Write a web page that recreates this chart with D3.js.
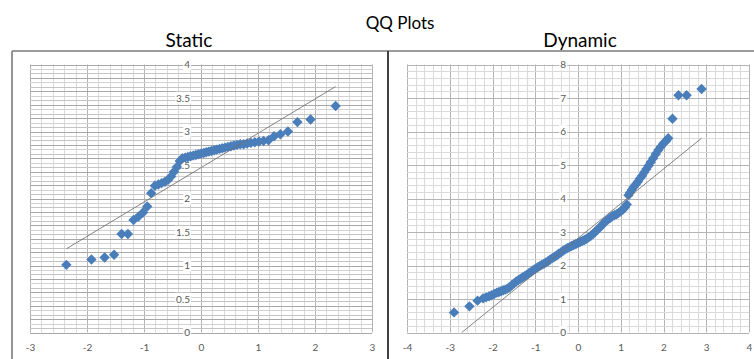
<!DOCTYPE html>
<html><head><meta charset="utf-8">
<script src="https://cdn.jsdelivr.net/npm/d3@7"></script>
<style>html,body{margin:0;padding:0;background:#fff;}svg{display:block;}</style>
</head><body>
<svg id="chart" width="754" height="359"></svg>
<script>
// ---------- data ----------
const mainTitle = "QQ Plots";
const panelTitles = ["Static", "Dynamic"];

const staticX = [-2.362,-1.922,-1.691,-1.525,-1.393,-1.282,-1.184,-1.097,-1.017,-0.943,-0.874,-0.809,-0.748,-0.689,-0.632,-0.577,-0.524,-0.473,-0.423,-0.373,-0.325,-0.277,-0.230,-0.183,-0.137,-0.091,-0.046,0,0.046,0.091,0.137,0.183,0.230,0.277,0.325,0.373,0.423,0.473,0.524,0.577,0.632,0.689,0.748,0.809,0.874,0.943,1.017,1.097,1.184,1.282,1.393,1.525,1.691,1.922,2.362];
const staticY = [1.01,1.09,1.12,1.16,1.47,1.47,1.68,1.73,1.79,1.88,2.08,2.19,2.21,2.23,2.25,2.28,2.33,2.40,2.47,2.56,2.60,2.61,2.62,2.63,2.64,2.65,2.66,2.67,2.68,2.69,2.70,2.71,2.72,2.73,2.74,2.75,2.76,2.77,2.78,2.79,2.80,2.81,2.81,2.82,2.83,2.84,2.85,2.86,2.87,2.93,2.96,3.00,3.14,3.18,3.38];
const staticLineX = [-2.36, 2.36];
const staticLineY = [1.25, 3.67];

const dynX = [-2.90,-2.54,-2.35,-2.22,-2.15,-2.08,-2.02,-1.96,-1.90,-1.85,-1.80,-1.75,-1.70,-1.65,-1.60,-1.55,-1.50,-1.45,-1.40,-1.35,-1.30,-1.25,-1.20,-1.15,-1.10,-1.05,-1.00,-0.95,-0.90,-0.85,-0.80,-0.75,-0.70,-0.65,-0.60,-0.55,-0.50,-0.45,-0.40,-0.35,-0.30,-0.25,-0.20,-0.15,-0.10,-0.05,0.00,0.05,0.10,0.15,0.20,0.25,0.30,0.35,0.40,0.45,0.50,0.55,0.60,0.65,0.70,0.75,0.80,0.85,0.90,0.95,1.00,1.05,1.10,1.14,1.18,1.22,1.26,1.30,1.35,1.40,1.45,1.50,1.55,1.60,1.65,1.70,1.76,1.82,1.88,1.94,2.00,2.06,2.11,2.21,2.35,2.54,2.89];
const dynY = [0.60,0.78,0.95,1.02,1.05,1.08,1.11,1.15,1.19,1.21,1.23,1.26,1.28,1.31,1.35,1.41,1.46,1.52,1.56,1.60,1.64,1.68,1.72,1.77,1.81,1.86,1.90,1.94,1.98,2.02,2.05,2.09,2.13,2.18,2.22,2.26,2.30,2.35,2.39,2.44,2.48,2.52,2.55,2.58,2.61,2.64,2.67,2.70,2.73,2.76,2.80,2.84,2.89,2.94,3.00,3.06,3.13,3.19,3.26,3.32,3.37,3.42,3.47,3.50,3.53,3.57,3.62,3.67,3.74,3.82,4.10,4.18,4.26,4.34,4.42,4.50,4.60,4.68,4.78,4.88,4.98,5.08,5.20,5.33,5.45,5.55,5.65,5.72,5.80,6.38,7.08,7.08,7.27];
const dynLineX = [-2.72, 2.89];
const dynLineY = [0, 5.80];

const staticXTicks = [-3,-2,-1,0,1,2,3];
const staticYTicks = [0,0.5,1,1.5,2,2.5,3,3.5,4];
const dynXTicks = [-4,-3,-2,-1,0,1,2,3,4];
const dynYTicks = [0,1,2,3,4,5,6,7,8];

// ---------- drawing ----------
const svg = d3.select("#chart");
svg.append("rect").attr("width",754).attr("height",359).attr("fill","#fff");

const FONT = "Lato, 'Open Sans', sans-serif";
const BLUE = "#4a7ebb";
const diamond = "M0,-5.2L5.2,0L0,5.2L-5.2,0Z";

function panel(cfg){
  const x = d3.scaleLinear().domain(cfg.xDom).range(cfg.xRange);
  const y = d3.scaleLinear().domain(cfg.yDom).range([332.5, 64.5]);
  const g = svg.append("g");
  // vertical grid
  const vx = d3.range(cfg.xDom[0]*5, cfg.xDom[1]*5+1).map(k=>k/5);
  g.selectAll(null).data(vx).join("line")
    .attr("x1",d=>Math.round(x(d))+0.5).attr("x2",d=>Math.round(x(d))+0.5)
    .attr("y1",y(cfg.yDom[0])).attr("y2",y(cfg.yDom[1]))
    .attr("stroke",d=>Math.abs(d-Math.round(d))<1e-6?"#b4b4b4":"#dadada").attr("stroke-width",1);
  // horizontal grid
  const hy = d3.range(0, cfg.hCount+1).map(k=>cfg.yDom[0]+k*(cfg.yDom[1]-cfg.yDom[0])/cfg.hCount);
  g.selectAll(null).data(hy).join("line")
    .attr("x1",x(cfg.xDom[0])).attr("x2",x(cfg.xDom[1]))
    .attr("y1",d=>Math.round(y(d))+0.5).attr("y2",d=>Math.round(y(d))+0.5)
    .attr("stroke",(d,i)=>cfg.hColor(i)).attr("stroke-width",1);

  // y axis labels (at x = 0)
  const ya = svg.append("g").attr("transform",`translate(${x(0)},0)`)
    .call(d3.axisLeft(y).tickValues(cfg.yTicks).tickSize(0).tickPadding(cfg.yPad).tickFormat(d=>String(d)));
  ya.select(".domain").remove();
  ya.selectAll("text").attr("font-family",FONT).attr("font-size",10).attr("fill","#595959");
  ya.selectAll(".tick").each(function(){
    const t = d3.select(this).select("text").node();
    const b = t.getBBox();
    d3.select(this).insert("rect","text").attr("x",b.x-1).attr("y",b.y).attr("width",b.width+2).attr("height",b.height).attr("fill","#fff");
  });
  // x axis labels
  const xa = svg.append("g").attr("transform",`translate(0,${y(cfg.yDom[0])})`)
    .call(d3.axisBottom(x).tickValues(cfg.xTicks).tickSize(0).tickPadding(11).tickFormat(d=>String(d)));
  xa.select(".domain").remove();
  xa.selectAll("text").attr("font-family",FONT).attr("font-size",10).attr("fill","#595959");

  // points
  svg.append("g").selectAll("path").data(cfg.px.map((v,i)=>[v,cfg.py[i]])).join("path")
    .attr("d",diamond).attr("transform",d=>`translate(${x(d[0])},${y(d[1])})`).attr("fill",BLUE);
  // reference line
  svg.append("line")
    .attr("x1",x(cfg.lx[0])).attr("y1",y(cfg.ly[0])).attr("x2",x(cfg.lx[1])).attr("y2",y(cfg.ly[1]))
    .attr("stroke","#707070").attr("stroke-width",1).attr("stroke-opacity",0.85);
}

panel({xDom:[-3,3], xRange:[30,372], yDom:[0,4], hCount:60,
  hColor:i=> (i%3===0) ? "#a8a8a8" : (i%3===1 ? "#c4c4c4" : "#d2d2d2"),
  xTicks:staticXTicks, yTicks:staticYTicks, yPad:11,
  px:staticX, py:staticY, lx:staticLineX, ly:staticLineY});

panel({xDom:[-4,4], xRange:[407,749], yDom:[0,8], hCount:40,
  hColor:i=> (i%5===0) ? "#b4b4b4" : "#dadada",
  xTicks:dynXTicks, yTicks:dynYTicks, yPad:12,
  px:dynX, py:dynY, lx:dynLineX, ly:dynLineY});

// frames
svg.append("line").attr("x1",12).attr("x2",754).attr("y1",51).attr("y2",51).attr("stroke","#7a7a7a").attr("stroke-width",1.6);
svg.append("line").attr("x1",12).attr("x2",12).attr("y1",51).attr("y2",359).attr("stroke","#7a7a7a").attr("stroke-width",1.6);
svg.append("line").attr("x1",388).attr("x2",388).attr("y1",51).attr("y2",359).attr("stroke","#404040").attr("stroke-width",2);

// titles
svg.append("text").attr("x",400).attr("y",29).attr("text-anchor","middle")
  .attr("font-family",FONT).attr("font-size",17).attr("fill","#000").text(mainTitle);
svg.append("text").attr("x",189).attr("y",47).attr("text-anchor","middle")
  .attr("font-family",FONT).attr("font-size",19).attr("fill","#000").text(panelTitles[0]);
svg.append("text").attr("x",580).attr("y",47).attr("text-anchor","middle")
  .attr("font-family",FONT).attr("font-size",19).attr("fill","#000").text(panelTitles[1]);
</script>
</body></html>
